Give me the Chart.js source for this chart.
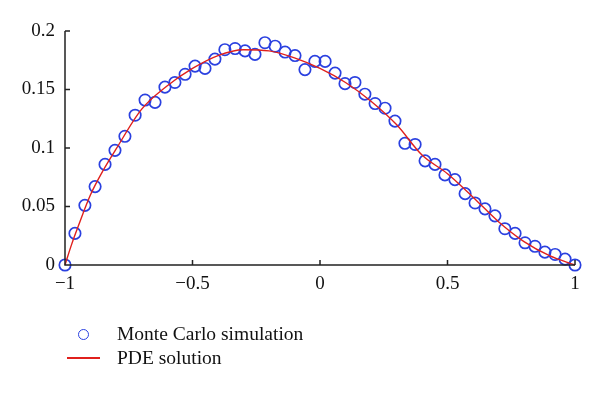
<!DOCTYPE html>
<html>
<head>
<meta charset="utf-8">
<script src="https://cdn.jsdelivr.net/npm/chart.js@4"></script>
<style>
  body { margin: 0; background: #fff; }
  #wrap { position: relative; width: 600px; height: 393px; }
  #legend { position: absolute; left: 66px; top: 322px; font-family: "Liberation Serif", serif; font-size: 19.5px; color: #111; }
  .row { height: 24px; display: flex; align-items: center; }
  .mark { width: 34px; display: flex; justify-content: center; margin-right: 17px; }
  .dot { width: 9px; height: 9px; border: 1.7px solid #2a40e0; border-radius: 50%; }
  .dash { width: 33px; height: 1.5px; background: #e0201c; }
</style>
</head>
<body>
<div id="wrap">
  <canvas id="graph-canvas" width="600" height="393"></canvas>
  <div id="legend">
    <div class="row"><span class="mark"><span class="dot"></span></span>Monte Carlo simulation</div>
    <div class="row"><span class="mark"><span class="dash"></span></span>PDE solution</div>
  </div>
</div>
<script>
const ctx = document.getElementById('graph-canvas');

// Monte Carlo sample points
const mcX = [-1, -0.961, -0.922, -0.882, -0.843, -0.804, -0.765, -0.725, -0.686, -0.647,
             -0.608, -0.569, -0.529, -0.490, -0.451, -0.412, -0.373, -0.333, -0.294, -0.255,
             -0.216, -0.176, -0.137, -0.098, -0.059, -0.020, 0.020, 0.059, 0.098, 0.137,
             0.176, 0.216, 0.255, 0.294, 0.333, 0.373, 0.412, 0.451, 0.490, 0.529,
             0.569, 0.608, 0.647, 0.686, 0.725, 0.765, 0.804, 0.843, 0.882, 0.922,
             0.961, 1];
const mcY = [0, 0.027, 0.051, 0.067, 0.086, 0.098, 0.110, 0.128, 0.141, 0.139,
             0.152, 0.156, 0.163, 0.170, 0.168, 0.176, 0.184, 0.185, 0.183, 0.180,
             0.190, 0.187, 0.182, 0.179, 0.167, 0.174, 0.174, 0.164, 0.155, 0.156,
             0.146, 0.138, 0.134, 0.123, 0.104, 0.103, 0.089, 0.086, 0.077, 0.073,
             0.061, 0.053, 0.048, 0.042, 0.031, 0.027, 0.019, 0.016, 0.011, 0.009,
             0.005, 0];

// PDE solution curve
const pdeX = [-1, -0.975, -0.95, -0.9, -0.85, -0.8, -0.7, -0.6, -0.5, -0.4, -0.3, -0.2, -0.1,
              0, 0.1, 0.2, 0.3, 0.4, 0.5, 0.6, 0.7, 0.8, 0.9, 1];
const pdeY = [0, 0.017, 0.032, 0.060, 0.081, 0.099, 0.133, 0.153, 0.168, 0.179, 0.184, 0.183, 0.177,
              0.168, 0.156, 0.140, 0.120, 0.094, 0.078, 0.058, 0.037, 0.020, 0.008, 0];

const xTicks = [-1, -0.5, 0, 0.5, 1];
const yTicks = [0, 0.05, 0.1, 0.15, 0.2];

const mcPoints = mcX.map((x, i) => ({x: x, y: mcY[i]}));
const pdePoints = pdeX.map((x, i) => ({x: x, y: pdeY[i]}));

// ticks drawn inward from the left and bottom axes
const innerTicks = {
    id: 'innerTicks',
    afterDraw(chart) {
        const c = chart.ctx;
        const xs = chart.scales.x, ys = chart.scales.y;
        const area = chart.chartArea;
        c.save();
        c.strokeStyle = '#222';
        c.lineWidth = 1.5;
        c.beginPath();
        c.moveTo(area.left, area.top);
        c.lineTo(area.left, area.bottom);
        c.lineTo(area.right, area.bottom);
        xTicks.forEach(v => {
            const px = xs.getPixelForValue(v);
            c.moveTo(px, area.bottom);
            c.lineTo(px, area.bottom - 5);
        });
        yTicks.forEach(v => {
            const py = ys.getPixelForValue(v);
            c.moveTo(area.left, py);
            c.lineTo(area.left + 5, py);
        });
        c.stroke();
        c.restore();
    }
};

const tickFont = {family: 'Liberation Serif', size: 19};

var chart = new Chart(ctx,
    {
    type: 'scatter',
    data:
    {
        datasets:
        [{
            label: 'PDE solution',
            data: pdePoints,
            showLine: true,
            borderColor: '#e0201c',
            borderWidth: 1.4,
            pointRadius: 0,
            cubicInterpolationMode: 'monotone',
            order: 0
        },
        {
            label: 'Monte Carlo simulation',
            data: mcPoints,
            pointStyle: 'circle',
            pointRadius: 5.7,
            borderColor: '#2a40e0',
            borderWidth: 1.7,
            backgroundColor: 'rgba(0,0,0,0)',
            order: 1
        }]
    },
    options:
    {
        responsive: false,
        animation: false,
        clip: false,
        layout: { padding: { top: 31, right: 25, left: 0, bottom: 0 } },
        plugins: { legend: { display: false }, tooltip: { enabled: false } },
        scales:
        {
            x:
            {
                type: 'linear',
                min: -1,
                max: 1,
                afterBuildTicks: s => { s.ticks = xTicks.map(v => ({value: v})); },
                afterFit: s => { s.height = 128; },
                grid: { display: false, drawTicks: false },
                border: { display: false },
                ticks: { font: tickFont, color: '#111', padding: 8, maxRotation: 0,
                         callback: v => String(v).replace('-', '\u2212') }
            },
            y:
            {
                min: 0,
                max: 0.2,
                afterBuildTicks: s => { s.ticks = yTicks.map(v => ({value: v})); },
                afterFit: s => { s.width = 65; },
                grid: { display: false, drawTicks: false },
                border: { display: false },
                ticks: { font: tickFont, color: '#111', padding: 10,
                         callback: v => String(v) }
            }
        }
    },
    plugins: [innerTicks]
});
</script>
</body>
</html>
